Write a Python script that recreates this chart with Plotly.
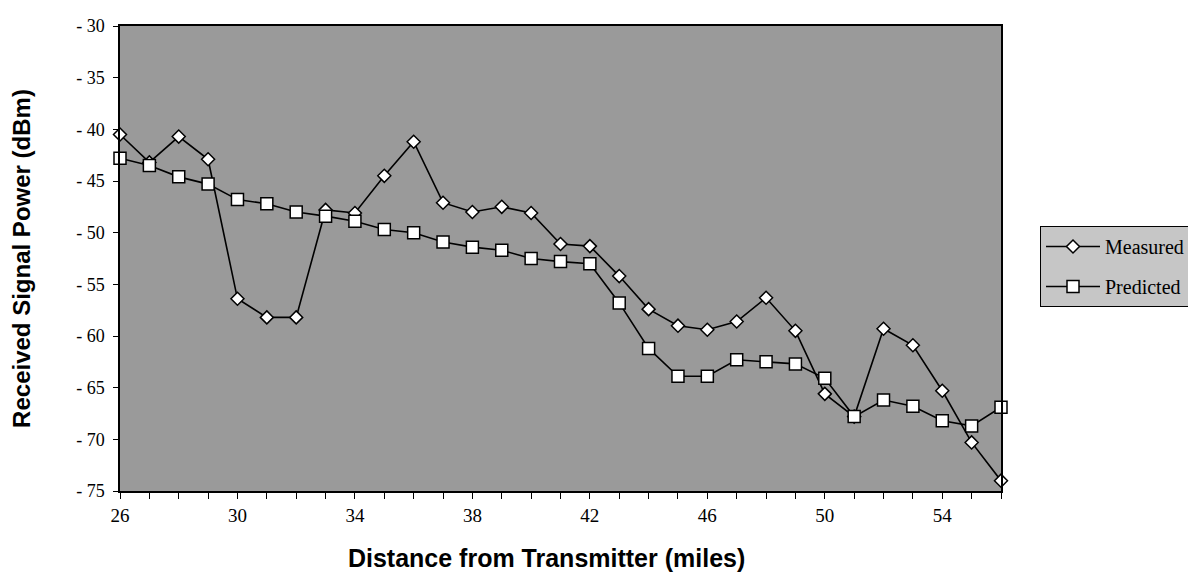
import plotly.graph_objects as go

distance = list(range(26, 57))
measured = [-40.5, -43.2, -40.7, -42.9, -56.4, -58.2, -58.2, -47.8, -48.1, -44.5,
            -41.2, -47.1, -48.0, -47.5, -48.1, -51.1, -51.3, -54.2, -57.4, -59.0,
            -59.4, -58.6, -56.3, -59.5, -65.6, -67.8, -59.3, -60.9, -65.3, -70.3, -74.0]
predicted = [-42.8, -43.5, -44.6, -45.3, -46.8, -47.2, -48.0, -48.4, -48.9, -49.7,
             -50.0, -50.9, -51.4, -51.7, -52.5, -52.8, -53.0, -56.8, -61.2, -63.9,
             -63.9, -62.3, -62.5, -62.7, -64.1, -67.8, -66.2, -66.8, -68.2, -68.7, -66.9]
x_tickvals = [26, 30, 34, 38, 42, 46, 50, 54]
y_tickvals = [-30, -35, -40, -45, -50, -55, -60, -65, -70, -75]
y_ticktext = ["- 30", "- 35", "- 40", "- 45", "- 50", "- 55", "- 60", "- 65", "- 70", "- 75"]

SERIF = "Liberation Serif, Times New Roman, serif"
SANS = "Liberation Sans, Arial, sans-serif"

fig = go.Figure()
fig.add_trace(go.Scatter(
    x=distance, y=measured, name="Measured", mode="lines+markers",
    line=dict(color="black", width=1.6),
    marker=dict(symbol="diamond", size=10, color="white", line=dict(color="black", width=1.5)),
    cliponaxis=False, legendgroup="m"))
fig.add_trace(go.Scatter(
    x=distance, y=predicted, name="Predicted", mode="lines+markers",
    line=dict(color="black", width=1.6),
    marker=dict(symbol="square", size=12, color="white", line=dict(color="black", width=1.5)),
    cliponaxis=False, legendgroup="p"))

# page body has an 8px margin, so the figure is 16px smaller than the window
W, H = 1180, 564
L, T = 112, 18
R = W - 993
B = H - 483
pw = W - L - R
ph = H - T - B

fig.update_layout(
    width=W, height=H,
    margin=dict(l=L, r=R, t=T, b=B, pad=0, autoexpand=False),
    paper_bgcolor="white",
    plot_bgcolor="#9a9a9a",
    showlegend=True,
    legend=dict(
        x=(1032 - L) / pw, y=(H - B - 218) / ph, xanchor="left", yanchor="top",
        bgcolor="#c6c6c6", bordercolor="black", borderwidth=1,
        font=dict(family=SERIF, size=20, color="black"),
        itemwidth=54, tracegroupgap=11, traceorder="grouped",
    ),
    xaxis=dict(
        range=[26, 56], tickvals=x_tickvals, ticktext=[str(v) for v in x_tickvals],
        tickfont=dict(family=SERIF, size=19, color="black"),
        ticks="outside", ticklen=6, tickcolor="black", tickwidth=1,
        minor=dict(dtick=1, tick0=26, ticks="outside", ticklen=6, tickcolor="black", showgrid=False),
        showline=True, linecolor="black", linewidth=1.5, mirror=True,
        showgrid=False, zeroline=False,
        title=dict(text="Distance from Transmitter (miles)&nbsp;&nbsp;&nbsp;&nbsp;",
                   font=dict(family=SANS, size=25, color="black", weight="bold"), standoff=38),
    ),
    yaxis=dict(
        range=[-75, -30], tickvals=y_tickvals, ticktext=y_ticktext,
        tickfont=dict(family=SERIF, size=18, color="black"),
        ticks="outside", ticklen=5, tickcolor="black", tickwidth=1, ticklabelstandoff=5,
        showline=True, linecolor="black", linewidth=1.5, mirror=True,
        showgrid=False, zeroline=False,
        title=dict(text="Received Signal Power (dBm)",
                   font=dict(family=SANS, size=24, color="black", weight="bold"), standoff=40),
    ),
)

fig.write_html("out.html")
